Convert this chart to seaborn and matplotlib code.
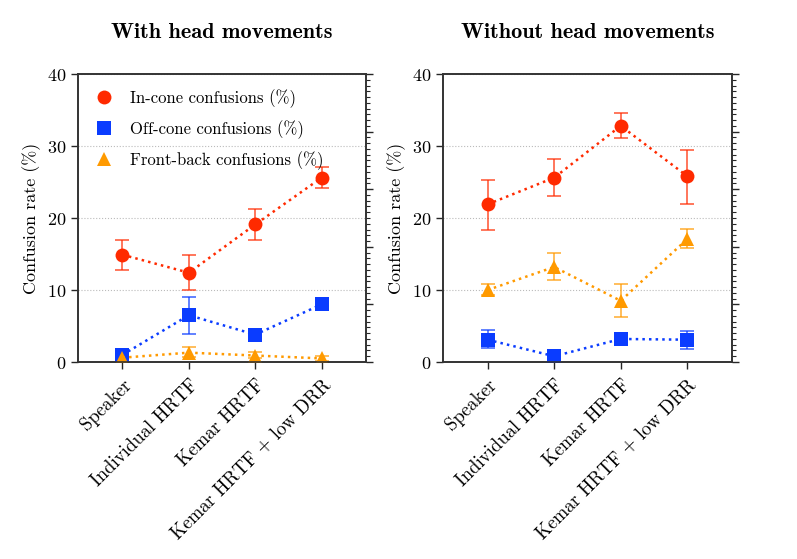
import numpy as np
import pandas as pd
import seaborn as sns
import matplotlib.pyplot as plt
from matplotlib.lines import Line2D
from matplotlib.ticker import AutoMinorLocator, FixedLocator

conditions = ['Speaker', 'Individual HRTF', 'Kemar HRTF', 'Kemar HRTF + low DRR']
series = ['In-cone confusions (%)', 'Off-cone confusions (%)', 'Front-back confusions (%)']

# with head movements: mean, lower bound, upper bound
with_in = [14.9, 12.4, 19.1, 25.6]
with_in_lo = [12.8, 10.0, 17.0, 24.1]
with_in_hi = [16.9, 14.8, 21.3, 27.1]
with_off = [1.0, 6.5, 3.8, 8.0]
with_off_lo = [0.7, 3.9, 3.5, 7.8]
with_off_hi = [1.3, 9.0, 4.1, 8.2]
with_fb = [0.6, 1.3, 0.9, 0.5]
with_fb_lo = [0.3, 0.7, 0.5, 0.2]
with_fb_hi = [0.9, 2.1, 1.4, 0.8]

# without head movements
wo_in = [21.9, 25.6, 32.8, 25.8]
wo_in_lo = [18.4, 23.0, 31.1, 22.0]
wo_in_hi = [25.3, 28.2, 34.6, 29.5]
wo_off = [3.1, 0.8, 3.2, 3.1]
wo_off_lo = [2.0, 0.6, 3.0, 1.8]
wo_off_hi = [4.4, 1.0, 3.4, 4.3]
wo_fb = [10.0, 13.2, 8.5, 17.1]
wo_fb_lo = [9.3, 11.4, 6.3, 15.9]
wo_fb_hi = [10.8, 15.2, 10.8, 18.5]

colors = ['#ff2a00', '#0a3cff', '#ff9a00']
markers = ['o', 's', '^']

sns.set_style('ticks')
plt.rcParams['font.family'] = ['cmr10', 'DejaVu Serif']
plt.rcParams['axes.formatter.use_mathtext'] = True
plt.rcParams['axes.unicode_minus'] = False
plt.rcParams['text.color'] = 'black'
plt.rcParams['axes.labelcolor'] = 'black'
plt.rcParams['xtick.labelcolor'] = 'black'
plt.rcParams['ytick.labelcolor'] = 'black'

fig = plt.figure(figsize=(7.97, 5.59), dpi=100)
ax1 = fig.add_axes([0.0979, 0.3524, 0.3614, 0.5152])
ax2 = fig.add_axes([0.5558, 0.3524, 0.3626, 0.5152])

panels = [
    (ax1, 'With head movements',
     [(with_in, with_in_lo, with_in_hi), (with_off, with_off_lo, with_off_hi), (with_fb, with_fb_lo, with_fb_hi)]),
    (ax2, 'Without head movements',
     [(wo_in, wo_in_lo, wo_in_hi), (wo_off, wo_off_lo, wo_off_hi), (wo_fb, wo_fb_lo, wo_fb_hi)]),
]

x = np.arange(len(conditions))
for ax, title, data in panels:
    ax.yaxis.grid(True, color='#bbbbbb', linewidth=0.8, linestyle=':')
    ax.set_axisbelow(True)
    for (vals, lo, hi), name, c, m in zip(data, series, colors, markers):
        vals = np.array(vals)
        yerr = [vals - np.array(lo), np.array(hi) - vals]
        ax.errorbar(x, vals, yerr=yerr, fmt='none', ecolor=c, alpha=0.75,
                    elinewidth=1.2, capsize=5, capthick=1.2, zorder=2)
        df = pd.DataFrame({'x': x, 'y': vals})
        sns.lineplot(data=df, x='x', y='y', ax=ax, color=c, linestyle=':',
                     linewidth=1.8, marker=m, markersize=10, markeredgewidth=0,
                     zorder=3, legend=False)
    ax.set_xlim(-0.67, 3.67)
    ax.set_ylim(0, 40)
    ax.set_yticks([0, 10, 20, 30, 40])
    ax.set_xticks(x)
    ax.set_xticklabels(conditions, rotation=45, ha='right', rotation_mode='anchor', fontsize=13.5)
    ax.tick_params(axis='y', labelsize=13, direction='out', length=5, width=1)
    ax.tick_params(axis='x', direction='out', length=5, width=1, pad=5)
    ax.set_xlabel('')
    ax.set_ylabel('Confusion rate (%)', fontsize=13, labelpad=4)
    ax.set_title(title, fontsize=16, family=['cmb10', 'DejaVu Serif'], pad=26)
    for s in ax.spines.values():
        s.set_visible(True)
        s.set_color('#333333')
        s.set_linewidth(1.2)

    tw = ax.twinx()
    tw.set_ylim(0, 40)
    tw.yaxis.set_major_locator(FixedLocator(np.linspace(0, 40, 6)))
    tw.yaxis.set_minor_locator(AutoMinorLocator(10))
    tw.tick_params(axis='y', which='major', direction='out', length=5, width=1, labelright=False)
    tw.tick_params(axis='y', which='minor', direction='out', length=3, width=0.8)
    for s in tw.spines.values():
        s.set_color('#333333')
        s.set_linewidth(1.2)

handles = [Line2D([], [], color=c, marker=m, linestyle='none', markersize=10, markeredgewidth=0)
           for c, m in zip(colors, markers)]
ax1.legend(handles, series, loc='upper left', frameon=False, fontsize=12,
           handletextpad=0.9, labelspacing=0.75, handlelength=1.3,
           bbox_to_anchor=(0.0, 1.0))

fig.savefig('out.png', dpi=100)
